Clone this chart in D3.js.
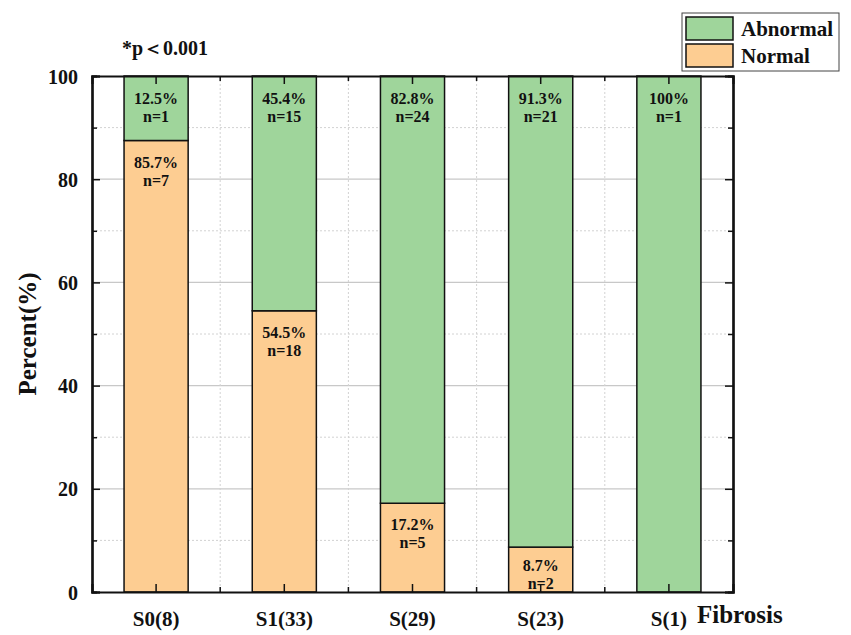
<!DOCTYPE html>
<html>
<head>
<meta charset="utf-8">
<script src="https://cdn.jsdelivr.net/npm/d3@7"></script>
<style>
  body { margin: 0; background: #fff; }
  text { font-family: "Liberation Serif", "Times New Roman", serif; font-weight: bold; fill: #111; }
</style>
</head>
<body>
<div id="chart"></div>
<script>
// data
var categories = ["S0(8)", "S1(33)", "S(29)", "S(23)", "S(1)"];
var normalPct = [87.5, 54.5, 17.2, 8.7, 0];
var abnormalPct = [12.5, 45.5, 82.8, 91.3, 100];
var normalLabels = ["85.7%", "54.5%", "17.2%", "8.7%", ""];
var normalN = ["n=7", "n=18", "n=5", "n=2", ""];
var abnormalLabels = ["12.5%", "45.4%", "82.8%", "91.3%", "100%"];
var abnormalN = ["n=1", "n=15", "n=24", "n=21", "n=1"];
var yTicks = [0, 20, 40, 60, 80, 100];
var yMinor = [10, 30, 50, 70, 90];

var green = "#9fd59b", orange = "#fdcd92";

var W = 851, H = 635;
var margin = {top: 76, right: 118, bottom: 43, left: 92};
var width = W - margin.left - margin.right,
    height = H - margin.top - margin.bottom;

var svg = d3.select("#chart").append("svg")
  .attr("width", W).attr("height", H);
var g = svg.append("g")
  .attr("transform", "translate(" + margin.left + "," + margin.top + ")");

var x = d3.scaleBand().domain(categories).range([0, width])
  .paddingInner(0.5).paddingOuter(0.25);
var y = d3.scaleLinear().domain([0, 100]).range([height, 0]);

var step = x.step();
var bounds = d3.range(1, categories.length).map(function(i){ return i * step; });
var centers = categories.map(function(c){ return x(c) + x.bandwidth() / 2; });

// grid
g.selectAll(".hgrid").data(yTicks.slice(1, -1)).enter().append("line")
  .attr("x1", 0).attr("x2", width)
  .attr("y1", function(d){ return y(d); }).attr("y2", function(d){ return y(d); })
  .attr("stroke", "#c8c8c8").attr("stroke-width", 1.2);
g.selectAll(".hminor").data(yMinor).enter().append("line")
  .attr("x1", 0).attr("x2", width)
  .attr("y1", function(d){ return y(d); }).attr("y2", function(d){ return y(d); })
  .attr("stroke", "#d2d2d2").attr("stroke-width", 1).attr("stroke-dasharray", "2,2");
g.selectAll(".vminor").data(bounds).enter().append("line")
  .attr("x1", function(d){ return d; }).attr("x2", function(d){ return d; })
  .attr("y1", 0).attr("y2", height)
  .attr("stroke", "#d2d2d2").attr("stroke-width", 1).attr("stroke-dasharray", "2,2");

// stacked bars
g.selectAll(".normal").data(categories).enter().append("rect")
  .attr("x", function(d){ return x(d); })
  .attr("width", x.bandwidth())
  .attr("y", function(d, i){ return y(normalPct[i]); })
  .attr("height", function(d, i){ return height - y(normalPct[i]); })
  .attr("fill", orange).attr("stroke", "#111").attr("stroke-width", 1.5)
  .style("display", function(d, i){ return normalPct[i] > 0 ? null : "none"; });

g.selectAll(".abnormal").data(categories).enter().append("rect")
  .attr("x", function(d){ return x(d); })
  .attr("width", x.bandwidth())
  .attr("y", function(d, i){ return y(normalPct[i] + abnormalPct[i]); })
  .attr("height", function(d, i){ return y(normalPct[i]) - y(normalPct[i] + abnormalPct[i]); })
  .attr("fill", green).attr("stroke", "#111").attr("stroke-width", 1.5);

// labels in bars
categories.forEach(function(c, i){
  var cx = centers[i];
  var topA = y(normalPct[i] + abnormalPct[i]);
  g.append("text").attr("x", cx).attr("y", topA + 28).attr("text-anchor", "middle")
    .style("font-size", "16px").text(abnormalLabels[i]);
  g.append("text").attr("x", cx).attr("y", topA + 46).attr("text-anchor", "middle")
    .style("font-size", "16px").text(abnormalN[i]);
  if (normalPct[i] > 0) {
    var topN = y(normalPct[i]);
    var room = height - topN;
    var d2 = Math.min(45, room - 3), d1 = Math.min(27, d2 - 18);
    g.append("text").attr("x", cx).attr("y", topN + d1).attr("text-anchor", "middle")
      .style("font-size", "16px").text(normalLabels[i]);
    g.append("text").attr("x", cx).attr("y", topN + d2).attr("text-anchor", "middle")
      .style("font-size", "16px").text(normalN[i]);
  }
});

// axes
var yAxis = g.append("g")
  .call(d3.axisLeft(y).tickValues(yTicks).tickSize(-8).tickPadding(14));
yAxis.selectAll("text").style("font-size", "20px").attr("dy", "0.35em");
g.append("g").call(d3.axisLeft(y).tickValues(yMinor).tickSize(-5).tickFormat(""));
g.append("g").attr("transform", "translate(" + width + ",0)")
  .call(d3.axisRight(y).tickValues(yTicks).tickSize(-8).tickFormat(""));
g.append("g").attr("transform", "translate(" + width + ",0)")
  .call(d3.axisRight(y).tickValues(yMinor).tickSize(-5).tickFormat(""));

var xAxis = g.append("g").attr("transform", "translate(0," + height + ")")
  .call(d3.axisBottom(x).tickSize(-8).tickPadding(19));
xAxis.selectAll("text").style("font-size", "21px").attr("dy", "0.71em");
g.append("g").attr("transform", "translate(0," + height + ")")
  .selectAll("line").data(bounds).enter().append("line")
  .attr("x1", function(d){ return d; }).attr("x2", function(d){ return d; })
  .attr("y1", 0).attr("y2", -5).attr("stroke", "#111").attr("stroke-width", 1.5);
g.append("g").call(d3.axisTop(x).tickSize(-8).tickFormat(""));
g.append("g").selectAll("line").data(bounds).enter().append("line")
  .attr("x1", function(d){ return d; }).attr("x2", function(d){ return d; })
  .attr("y1", 0).attr("y2", 5).attr("stroke", "#111").attr("stroke-width", 1.5);

g.selectAll(".domain").attr("stroke", "#111").attr("stroke-width", 2.2);
g.selectAll(".tick line").attr("stroke", "#111").attr("stroke-width", 1.5);

// axis titles
svg.append("text")
  .attr("transform", "translate(36," + (margin.top + height / 2) + ") rotate(-90)")
  .attr("text-anchor", "middle").style("font-size", "25px").text("Percent(%)");
svg.append("text").attr("x", 697).attr("y", 623)
  .style("font-size", "25px").text("Fibrosis");

// p value
svg.append("text").attr("x", 122).attr("y", 55)
  .style("font-size", "20px").text("*p＜0.001");

// legend
var leg = svg.append("g").attr("transform", "translate(682,13)");
leg.append("rect").attr("width", 157).attr("height", 58)
  .attr("fill", "#fff").attr("stroke", "#444").attr("stroke-width", 1);
var legItems = [{name: "Abnormal", color: green}, {name: "Normal", color: orange}];
leg.selectAll(".li").data(legItems).enter().append("g")
  .attr("transform", function(d, i){ return "translate(4," + (4 + i * 27) + ")"; })
  .each(function(d){
    var s = d3.select(this);
    s.append("rect").attr("width", 47).attr("height", 23)
      .attr("fill", d.color).attr("stroke", "#111").attr("stroke-width", 1.5);
    s.append("text").attr("x", 55).attr("y", 19)
      .style("font-size", "21px").text(d.name);
  });
</script>
</body>
</html>
